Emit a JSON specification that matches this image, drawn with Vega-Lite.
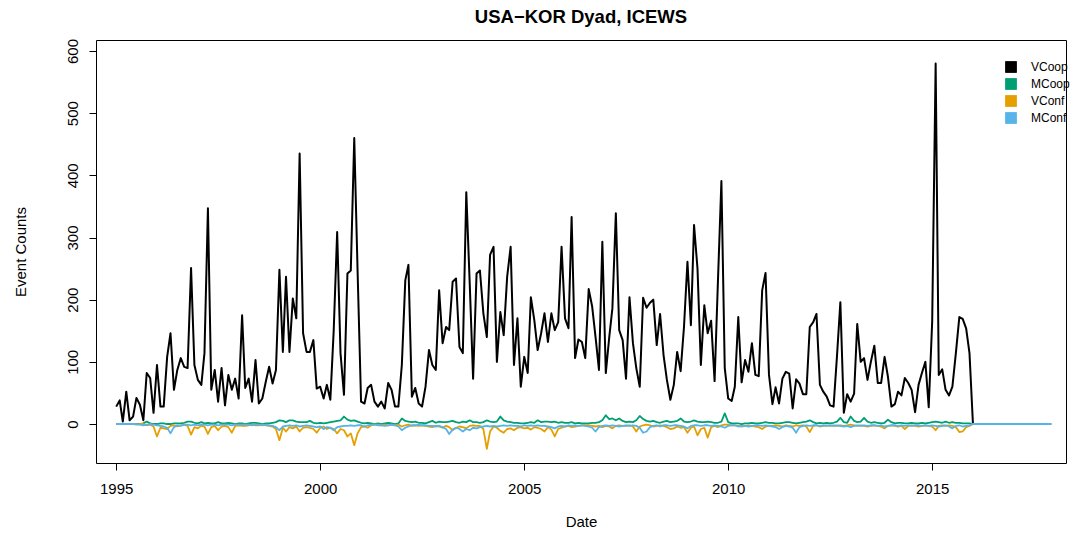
{
"$schema": "https://vega.github.io/schema/vega-lite/v6.json",
"width": 970, "height": 423,
"autosize": "none",
"padding": {"left": 96, "top": 40, "right": 15, "bottom": 71},
"background": "white",
"config": {"view": {"stroke": "black", "strokeWidth": 1}, "font": "Liberation Sans"},
"title": {"text": "USA−KOR Dyad, ICEWS", "fontSize": 18.5, "fontWeight": "bold", "font": "Liberation Sans", "anchor": "middle", "frame": "group", "offset": 16, "dy": 19, "baseline": "alphabetic", "color": "black"},
"data": {"format": {"parse": {"d": "date:'%Y-%m'"}}, "values": [
{"d":"1995-01","VCoop":28,"MCoop":0,"VConf":0,"MConf":0},
{"d":"1995-02","VCoop":38,"MCoop":0,"VConf":0,"MConf":0},
{"d":"1995-03","VCoop":4,"MCoop":0,"VConf":0,"MConf":0},
{"d":"1995-04","VCoop":52,"MCoop":0,"VConf":0,"MConf":0},
{"d":"1995-05","VCoop":6,"MCoop":0,"VConf":0,"MConf":0},
{"d":"1995-06","VCoop":12,"MCoop":0,"VConf":0,"MConf":0},
{"d":"1995-07","VCoop":42,"MCoop":0,"VConf":-1,"MConf":0},
{"d":"1995-08","VCoop":31,"MCoop":0,"VConf":0,"MConf":-1},
{"d":"1995-09","VCoop":6,"MCoop":1,"VConf":0,"MConf":-2},
{"d":"1995-10","VCoop":82,"MCoop":4,"VConf":-2,"MConf":-1},
{"d":"1995-11","VCoop":74,"MCoop":1,"VConf":-1,"MConf":0},
{"d":"1995-12","VCoop":18,"MCoop":0,"VConf":-4,"MConf":-1},
{"d":"1996-01","VCoop":95,"MCoop":0,"VConf":-20,"MConf":-2},
{"d":"1996-02","VCoop":28,"MCoop":1,"VConf":-6,"MConf":-3},
{"d":"1996-03","VCoop":28,"MCoop":1,"VConf":-7,"MConf":-4},
{"d":"1996-04","VCoop":108,"MCoop":0,"VConf":-8,"MConf":-6},
{"d":"1996-05","VCoop":146,"MCoop":0,"VConf":-3,"MConf":-15},
{"d":"1996-06","VCoop":55,"MCoop":1,"VConf":-2,"MConf":-5},
{"d":"1996-07","VCoop":87,"MCoop":1,"VConf":-4,"MConf":-2},
{"d":"1996-08","VCoop":106,"MCoop":1,"VConf":-2,"MConf":-3},
{"d":"1996-09","VCoop":92,"MCoop":2,"VConf":-1,"MConf":-1},
{"d":"1996-10","VCoop":90,"MCoop":4,"VConf":-3,"MConf":-1},
{"d":"1996-11","VCoop":251,"MCoop":4,"VConf":-17,"MConf":-2},
{"d":"1996-12","VCoop":95,"MCoop":2,"VConf":-5,"MConf":-1},
{"d":"1997-01","VCoop":71,"MCoop":1,"VConf":-7,"MConf":-2},
{"d":"1997-02","VCoop":63,"MCoop":3,"VConf":-3,"MConf":-1},
{"d":"1997-03","VCoop":114,"MCoop":1,"VConf":-4,"MConf":-1},
{"d":"1997-04","VCoop":347,"MCoop":2,"VConf":-16,"MConf":-2},
{"d":"1997-05","VCoop":55,"MCoop":1,"VConf":-5,"MConf":-1},
{"d":"1997-06","VCoop":87,"MCoop":1,"VConf":-3,"MConf":-1},
{"d":"1997-07","VCoop":36,"MCoop":3,"VConf":-10,"MConf":-2},
{"d":"1997-08","VCoop":90,"MCoop":1,"VConf":-4,"MConf":-1},
{"d":"1997-09","VCoop":30,"MCoop":1,"VConf":-3,"MConf":-1},
{"d":"1997-10","VCoop":79,"MCoop":2,"VConf":-5,"MConf":-1},
{"d":"1997-11","VCoop":55,"MCoop":1,"VConf":-14,"MConf":-2},
{"d":"1997-12","VCoop":73,"MCoop":0,"VConf":-3,"MConf":-1},
{"d":"1998-01","VCoop":41,"MCoop":1,"VConf":-2,"MConf":-1},
{"d":"1998-02","VCoop":175,"MCoop":1,"VConf":-3,"MConf":-1},
{"d":"1998-03","VCoop":58,"MCoop":0,"VConf":-3,"MConf":-1},
{"d":"1998-04","VCoop":73,"MCoop":1,"VConf":-2,"MConf":-1},
{"d":"1998-05","VCoop":36,"MCoop":2,"VConf":-1,"MConf":-2},
{"d":"1998-06","VCoop":103,"MCoop":2,"VConf":-2,"MConf":-1},
{"d":"1998-07","VCoop":33,"MCoop":1,"VConf":-2,"MConf":-1},
{"d":"1998-08","VCoop":41,"MCoop":0,"VConf":-1,"MConf":-2},
{"d":"1998-09","VCoop":68,"MCoop":1,"VConf":-2,"MConf":-1},
{"d":"1998-10","VCoop":92,"MCoop":1,"VConf":-3,"MConf":-2},
{"d":"1998-11","VCoop":65,"MCoop":2,"VConf":-4,"MConf":-3},
{"d":"1998-12","VCoop":87,"MCoop":3,"VConf":-8,"MConf":-5},
{"d":"1999-01","VCoop":248,"MCoop":6,"VConf":-26,"MConf":-10},
{"d":"1999-02","VCoop":116,"MCoop":5,"VConf":-6,"MConf":-4},
{"d":"1999-03","VCoop":237,"MCoop":3,"VConf":-12,"MConf":-3},
{"d":"1999-04","VCoop":116,"MCoop":6,"VConf":-5,"MConf":-2},
{"d":"1999-05","VCoop":202,"MCoop":6,"VConf":-7,"MConf":-3},
{"d":"1999-06","VCoop":170,"MCoop":4,"VConf":-4,"MConf":-2},
{"d":"1999-07","VCoop":435,"MCoop":3,"VConf":-12,"MConf":-4},
{"d":"1999-08","VCoop":146,"MCoop":3,"VConf":-6,"MConf":-3},
{"d":"1999-09","VCoop":116,"MCoop":3,"VConf":-5,"MConf":-2},
{"d":"1999-10","VCoop":116,"MCoop":5,"VConf":-6,"MConf":-3},
{"d":"1999-11","VCoop":135,"MCoop":2,"VConf":-8,"MConf":-4},
{"d":"1999-12","VCoop":57,"MCoop":1,"VConf":-14,"MConf":-5},
{"d":"2000-01","VCoop":60,"MCoop":2,"VConf":-6,"MConf":-4},
{"d":"2000-02","VCoop":41,"MCoop":1,"VConf":-4,"MConf":-8},
{"d":"2000-03","VCoop":63,"MCoop":2,"VConf":-8,"MConf":-5},
{"d":"2000-04","VCoop":39,"MCoop":3,"VConf":-6,"MConf":-6},
{"d":"2000-05","VCoop":150,"MCoop":4,"VConf":-8,"MConf":-10},
{"d":"2000-06","VCoop":309,"MCoop":5,"VConf":-15,"MConf":-5},
{"d":"2000-07","VCoop":114,"MCoop":6,"VConf":-8,"MConf":-4},
{"d":"2000-08","VCoop":47,"MCoop":12,"VConf":-10,"MConf":-3},
{"d":"2000-09","VCoop":242,"MCoop":7,"VConf":-20,"MConf":-3},
{"d":"2000-10","VCoop":247,"MCoop":5,"VConf":-15,"MConf":-2},
{"d":"2000-11","VCoop":460,"MCoop":6,"VConf":-34,"MConf":-3},
{"d":"2000-12","VCoop":245,"MCoop":4,"VConf":-15,"MConf":-2},
{"d":"2001-01","VCoop":36,"MCoop":2,"VConf":-5,"MConf":-2},
{"d":"2001-02","VCoop":33,"MCoop":1,"VConf":-4,"MConf":-4},
{"d":"2001-03","VCoop":58,"MCoop":2,"VConf":-6,"MConf":-2},
{"d":"2001-04","VCoop":63,"MCoop":1,"VConf":-2,"MConf":-1},
{"d":"2001-05","VCoop":36,"MCoop":0,"VConf":-1,"MConf":-1},
{"d":"2001-06","VCoop":28,"MCoop":1,"VConf":-1,"MConf":-2},
{"d":"2001-07","VCoop":36,"MCoop":0,"VConf":-2,"MConf":-2},
{"d":"2001-08","VCoop":25,"MCoop":1,"VConf":-1,"MConf":-3},
{"d":"2001-09","VCoop":66,"MCoop":2,"VConf":-2,"MConf":-2},
{"d":"2001-10","VCoop":55,"MCoop":1,"VConf":-1,"MConf":-1},
{"d":"2001-11","VCoop":28,"MCoop":0,"VConf":-2,"MConf":-2},
{"d":"2001-12","VCoop":28,"MCoop":1,"VConf":-1,"MConf":-4},
{"d":"2002-01","VCoop":95,"MCoop":9,"VConf":-4,"MConf":-10},
{"d":"2002-02","VCoop":231,"MCoop":5,"VConf":-2,"MConf":-6},
{"d":"2002-03","VCoop":256,"MCoop":4,"VConf":-1,"MConf":-4},
{"d":"2002-04","VCoop":44,"MCoop":3,"VConf":-3,"MConf":-2},
{"d":"2002-05","VCoop":58,"MCoop":4,"VConf":-2,"MConf":-2},
{"d":"2002-06","VCoop":33,"MCoop":2,"VConf":-3,"MConf":-1},
{"d":"2002-07","VCoop":28,"MCoop":2,"VConf":-2,"MConf":-2},
{"d":"2002-08","VCoop":60,"MCoop":1,"VConf":-3,"MConf":-2},
{"d":"2002-09","VCoop":119,"MCoop":3,"VConf":-4,"MConf":-3},
{"d":"2002-10","VCoop":95,"MCoop":5,"VConf":-5,"MConf":-3},
{"d":"2002-11","VCoop":87,"MCoop":2,"VConf":-3,"MConf":-4},
{"d":"2002-12","VCoop":215,"MCoop":4,"VConf":-4,"MConf":-3},
{"d":"2003-01","VCoop":130,"MCoop":3,"VConf":-6,"MConf":-5},
{"d":"2003-02","VCoop":156,"MCoop":3,"VConf":-3,"MConf":-8},
{"d":"2003-03","VCoop":151,"MCoop":4,"VConf":-5,"MConf":-16},
{"d":"2003-04","VCoop":229,"MCoop":5,"VConf":-10,"MConf":-9},
{"d":"2003-05","VCoop":234,"MCoop":3,"VConf":-6,"MConf":-6},
{"d":"2003-06","VCoop":124,"MCoop":2,"VConf":-4,"MConf":-8},
{"d":"2003-07","VCoop":114,"MCoop":4,"VConf":-5,"MConf":-12},
{"d":"2003-08","VCoop":373,"MCoop":3,"VConf":-7,"MConf":-8},
{"d":"2003-09","VCoop":225,"MCoop":6,"VConf":-3,"MConf":-10},
{"d":"2003-10","VCoop":73,"MCoop":3,"VConf":-2,"MConf":-6},
{"d":"2003-11","VCoop":242,"MCoop":3,"VConf":-3,"MConf":-7},
{"d":"2003-12","VCoop":247,"MCoop":2,"VConf":-3,"MConf":-5},
{"d":"2004-01","VCoop":178,"MCoop":3,"VConf":-8,"MConf":-4},
{"d":"2004-02","VCoop":140,"MCoop":6,"VConf":-40,"MConf":-3},
{"d":"2004-03","VCoop":272,"MCoop":4,"VConf":-12,"MConf":-4},
{"d":"2004-04","VCoop":285,"MCoop":3,"VConf":-4,"MConf":-3},
{"d":"2004-05","VCoop":100,"MCoop":4,"VConf":-6,"MConf":-4},
{"d":"2004-06","VCoop":180,"MCoop":12,"VConf":-11,"MConf":-3},
{"d":"2004-07","VCoop":143,"MCoop":6,"VConf":-14,"MConf":-2},
{"d":"2004-08","VCoop":237,"MCoop":4,"VConf":-8,"MConf":-3},
{"d":"2004-09","VCoop":285,"MCoop":3,"VConf":-7,"MConf":-2},
{"d":"2004-10","VCoop":95,"MCoop":2,"VConf":-10,"MConf":-3},
{"d":"2004-11","VCoop":170,"MCoop":2,"VConf":-6,"MConf":-3},
{"d":"2004-12","VCoop":60,"MCoop":1,"VConf":-5,"MConf":-4},
{"d":"2005-01","VCoop":108,"MCoop":1,"VConf":-7,"MConf":-2},
{"d":"2005-02","VCoop":82,"MCoop":2,"VConf":-6,"MConf":-3},
{"d":"2005-03","VCoop":204,"MCoop":3,"VConf":-9,"MConf":-2},
{"d":"2005-04","VCoop":167,"MCoop":2,"VConf":-5,"MConf":-3},
{"d":"2005-05","VCoop":119,"MCoop":6,"VConf":-6,"MConf":-2},
{"d":"2005-06","VCoop":146,"MCoop":3,"VConf":-8,"MConf":-3},
{"d":"2005-07","VCoop":178,"MCoop":4,"VConf":-12,"MConf":-3},
{"d":"2005-08","VCoop":132,"MCoop":4,"VConf":-5,"MConf":-4},
{"d":"2005-09","VCoop":178,"MCoop":3,"VConf":-9,"MConf":-5},
{"d":"2005-10","VCoop":151,"MCoop":4,"VConf":-20,"MConf":-7},
{"d":"2005-11","VCoop":164,"MCoop":2,"VConf":-8,"MConf":-4},
{"d":"2005-12","VCoop":285,"MCoop":3,"VConf":-6,"MConf":-3},
{"d":"2006-01","VCoop":170,"MCoop":2,"VConf":-4,"MConf":-4},
{"d":"2006-02","VCoop":154,"MCoop":2,"VConf":-3,"MConf":-2},
{"d":"2006-03","VCoop":333,"MCoop":3,"VConf":-5,"MConf":-3},
{"d":"2006-04","VCoop":106,"MCoop":1,"VConf":-4,"MConf":-2},
{"d":"2006-05","VCoop":136,"MCoop":2,"VConf":-3,"MConf":-3},
{"d":"2006-06","VCoop":132,"MCoop":1,"VConf":-2,"MConf":-2},
{"d":"2006-07","VCoop":106,"MCoop":1,"VConf":-2,"MConf":-3},
{"d":"2006-08","VCoop":217,"MCoop":1,"VConf":-2,"MConf":-4},
{"d":"2006-09","VCoop":189,"MCoop":2,"VConf":-3,"MConf":-6},
{"d":"2006-10","VCoop":140,"MCoop":2,"VConf":-4,"MConf":-12},
{"d":"2006-11","VCoop":87,"MCoop":3,"VConf":-3,"MConf":-5},
{"d":"2006-12","VCoop":293,"MCoop":6,"VConf":-5,"MConf":-3},
{"d":"2007-01","VCoop":82,"MCoop":14,"VConf":-3,"MConf":-2},
{"d":"2007-02","VCoop":140,"MCoop":8,"VConf":-4,"MConf":-3},
{"d":"2007-03","VCoop":186,"MCoop":9,"VConf":-7,"MConf":-2},
{"d":"2007-04","VCoop":339,"MCoop":6,"VConf":-3,"MConf":-3},
{"d":"2007-05","VCoop":151,"MCoop":9,"VConf":-2,"MConf":-4},
{"d":"2007-06","VCoop":135,"MCoop":5,"VConf":-3,"MConf":-3},
{"d":"2007-07","VCoop":73,"MCoop":3,"VConf":-3,"MConf":-2},
{"d":"2007-08","VCoop":204,"MCoop":4,"VConf":-2,"MConf":-3},
{"d":"2007-09","VCoop":130,"MCoop":3,"VConf":-4,"MConf":-2},
{"d":"2007-10","VCoop":90,"MCoop":6,"VConf":-12,"MConf":-3},
{"d":"2007-11","VCoop":60,"MCoop":13,"VConf":-4,"MConf":-6},
{"d":"2007-12","VCoop":203,"MCoop":8,"VConf":-2,"MConf":-14},
{"d":"2008-01","VCoop":187,"MCoop":5,"VConf":-1,"MConf":-12},
{"d":"2008-02","VCoop":195,"MCoop":4,"VConf":-2,"MConf":-5},
{"d":"2008-03","VCoop":200,"MCoop":5,"VConf":-4,"MConf":-3},
{"d":"2008-04","VCoop":127,"MCoop":3,"VConf":-3,"MConf":-2},
{"d":"2008-05","VCoop":177,"MCoop":2,"VConf":-2,"MConf":-4},
{"d":"2008-06","VCoop":111,"MCoop":4,"VConf":-3,"MConf":-2},
{"d":"2008-07","VCoop":71,"MCoop":5,"VConf":-5,"MConf":-2},
{"d":"2008-08","VCoop":39,"MCoop":3,"VConf":-8,"MConf":-3},
{"d":"2008-09","VCoop":63,"MCoop":4,"VConf":-7,"MConf":-2},
{"d":"2008-10","VCoop":116,"MCoop":5,"VConf":-4,"MConf":-2},
{"d":"2008-11","VCoop":85,"MCoop":9,"VConf":-6,"MConf":-3},
{"d":"2008-12","VCoop":156,"MCoop":4,"VConf":-5,"MConf":-4},
{"d":"2009-01","VCoop":261,"MCoop":3,"VConf":-14,"MConf":-7},
{"d":"2009-02","VCoop":159,"MCoop":4,"VConf":-6,"MConf":-3},
{"d":"2009-03","VCoop":320,"MCoop":6,"VConf":-4,"MConf":-2},
{"d":"2009-04","VCoop":250,"MCoop":4,"VConf":-18,"MConf":-2},
{"d":"2009-05","VCoop":95,"MCoop":3,"VConf":-8,"MConf":-3},
{"d":"2009-06","VCoop":191,"MCoop":3,"VConf":-6,"MConf":-2},
{"d":"2009-07","VCoop":146,"MCoop":4,"VConf":-22,"MConf":-2},
{"d":"2009-08","VCoop":166,"MCoop":3,"VConf":-5,"MConf":-3},
{"d":"2009-09","VCoop":69,"MCoop":2,"VConf":-3,"MConf":-2},
{"d":"2009-10","VCoop":230,"MCoop":2,"VConf":-5,"MConf":-3},
{"d":"2009-11","VCoop":391,"MCoop":4,"VConf":-2,"MConf":-4},
{"d":"2009-12","VCoop":90,"MCoop":17,"VConf":-1,"MConf":-6},
{"d":"2010-01","VCoop":41,"MCoop":3,"VConf":-1,"MConf":-3},
{"d":"2010-02","VCoop":37,"MCoop":1,"VConf":-2,"MConf":-2},
{"d":"2010-03","VCoop":60,"MCoop":1,"VConf":-2,"MConf":-2},
{"d":"2010-04","VCoop":172,"MCoop":1,"VConf":-3,"MConf":-4},
{"d":"2010-05","VCoop":67,"MCoop":0,"VConf":-4,"MConf":-3},
{"d":"2010-06","VCoop":103,"MCoop":1,"VConf":-3,"MConf":-3},
{"d":"2010-07","VCoop":84,"MCoop":1,"VConf":-2,"MConf":-4},
{"d":"2010-08","VCoop":130,"MCoop":2,"VConf":-3,"MConf":-3},
{"d":"2010-09","VCoop":79,"MCoop":1,"VConf":-4,"MConf":-2},
{"d":"2010-10","VCoop":77,"MCoop":1,"VConf":-5,"MConf":-2},
{"d":"2010-11","VCoop":215,"MCoop":2,"VConf":-8,"MConf":-3},
{"d":"2010-12","VCoop":243,"MCoop":3,"VConf":-4,"MConf":-2},
{"d":"2011-01","VCoop":79,"MCoop":2,"VConf":-3,"MConf":-3},
{"d":"2011-02","VCoop":32,"MCoop":2,"VConf":-3,"MConf":-4},
{"d":"2011-03","VCoop":59,"MCoop":1,"VConf":-2,"MConf":-5},
{"d":"2011-04","VCoop":33,"MCoop":1,"VConf":-3,"MConf":-8},
{"d":"2011-05","VCoop":73,"MCoop":2,"VConf":-4,"MConf":-5},
{"d":"2011-06","VCoop":84,"MCoop":3,"VConf":-2,"MConf":-3},
{"d":"2011-07","VCoop":81,"MCoop":3,"VConf":-3,"MConf":-4},
{"d":"2011-08","VCoop":25,"MCoop":2,"VConf":-4,"MConf":-6},
{"d":"2011-09","VCoop":72,"MCoop":1,"VConf":-2,"MConf":-14},
{"d":"2011-10","VCoop":65,"MCoop":2,"VConf":-3,"MConf":-5},
{"d":"2011-11","VCoop":48,"MCoop":3,"VConf":-2,"MConf":-3},
{"d":"2011-12","VCoop":48,"MCoop":4,"VConf":-4,"MConf":-2},
{"d":"2012-01","VCoop":156,"MCoop":6,"VConf":-13,"MConf":-3},
{"d":"2012-02","VCoop":164,"MCoop":3,"VConf":-3,"MConf":-2},
{"d":"2012-03","VCoop":177,"MCoop":1,"VConf":-2,"MConf":-2},
{"d":"2012-04","VCoop":63,"MCoop":2,"VConf":-4,"MConf":-3},
{"d":"2012-05","VCoop":52,"MCoop":1,"VConf":-3,"MConf":-2},
{"d":"2012-06","VCoop":44,"MCoop":2,"VConf":-2,"MConf":-3},
{"d":"2012-07","VCoop":30,"MCoop":1,"VConf":-3,"MConf":-2},
{"d":"2012-08","VCoop":28,"MCoop":2,"VConf":-2,"MConf":-3},
{"d":"2012-09","VCoop":110,"MCoop":4,"VConf":-3,"MConf":-2},
{"d":"2012-10","VCoop":196,"MCoop":10,"VConf":-2,"MConf":-3},
{"d":"2012-11","VCoop":18,"MCoop":3,"VConf":-3,"MConf":-4},
{"d":"2012-12","VCoop":48,"MCoop":2,"VConf":-2,"MConf":-3},
{"d":"2013-01","VCoop":36,"MCoop":12,"VConf":-1,"MConf":-5},
{"d":"2013-02","VCoop":49,"MCoop":5,"VConf":-2,"MConf":-3},
{"d":"2013-03","VCoop":161,"MCoop":3,"VConf":-3,"MConf":-2},
{"d":"2013-04","VCoop":100,"MCoop":4,"VConf":-2,"MConf":-3},
{"d":"2013-05","VCoop":106,"MCoop":10,"VConf":-3,"MConf":-2},
{"d":"2013-06","VCoop":71,"MCoop":4,"VConf":-4,"MConf":-3},
{"d":"2013-07","VCoop":100,"MCoop":2,"VConf":-3,"MConf":-2},
{"d":"2013-08","VCoop":126,"MCoop":3,"VConf":-2,"MConf":-2},
{"d":"2013-09","VCoop":66,"MCoop":2,"VConf":-3,"MConf":-3},
{"d":"2013-10","VCoop":66,"MCoop":1,"VConf":-4,"MConf":-2},
{"d":"2013-11","VCoop":108,"MCoop":2,"VConf":-7,"MConf":-4},
{"d":"2013-12","VCoop":76,"MCoop":7,"VConf":-3,"MConf":-3},
{"d":"2014-01","VCoop":28,"MCoop":3,"VConf":-2,"MConf":-2},
{"d":"2014-02","VCoop":32,"MCoop":1,"VConf":-3,"MConf":-2},
{"d":"2014-03","VCoop":52,"MCoop":2,"VConf":-4,"MConf":-3},
{"d":"2014-04","VCoop":46,"MCoop":2,"VConf":-3,"MConf":-2},
{"d":"2014-05","VCoop":74,"MCoop":1,"VConf":-8,"MConf":-3},
{"d":"2014-06","VCoop":66,"MCoop":1,"VConf":-3,"MConf":-2},
{"d":"2014-07","VCoop":55,"MCoop":2,"VConf":-2,"MConf":-3},
{"d":"2014-08","VCoop":19,"MCoop":1,"VConf":-3,"MConf":-2},
{"d":"2014-09","VCoop":63,"MCoop":1,"VConf":-4,"MConf":-2},
{"d":"2014-10","VCoop":82,"MCoop":2,"VConf":-3,"MConf":-3},
{"d":"2014-11","VCoop":100,"MCoop":1,"VConf":-2,"MConf":-2},
{"d":"2014-12","VCoop":27,"MCoop":2,"VConf":-3,"MConf":-3},
{"d":"2015-01","VCoop":165,"MCoop":3,"VConf":-4,"MConf":-2},
{"d":"2015-02","VCoop":580,"MCoop":4,"VConf":-10,"MConf":-3},
{"d":"2015-03","VCoop":79,"MCoop":3,"VConf":-3,"MConf":-4},
{"d":"2015-04","VCoop":88,"MCoop":2,"VConf":-2,"MConf":-3},
{"d":"2015-05","VCoop":55,"MCoop":4,"VConf":-3,"MConf":-2},
{"d":"2015-06","VCoop":46,"MCoop":2,"VConf":-2,"MConf":-4},
{"d":"2015-07","VCoop":60,"MCoop":3,"VConf":-3,"MConf":-7},
{"d":"2015-08","VCoop":114,"MCoop":2,"VConf":-5,"MConf":-3},
{"d":"2015-09","VCoop":172,"MCoop":2,"VConf":-13,"MConf":-2},
{"d":"2015-10","VCoop":169,"MCoop":1,"VConf":-12,"MConf":-4},
{"d":"2015-11","VCoop":154,"MCoop":1,"VConf":-5,"MConf":-3},
{"d":"2015-12","VCoop":114,"MCoop":1,"VConf":-3,"MConf":-2},
{"d":"2016-01","VCoop":0,"MCoop":0,"VConf":0,"MConf":0},
{"d":"2016-02","VCoop":0,"MCoop":0,"VConf":0,"MConf":0},
{"d":"2016-03","VCoop":0,"MCoop":0,"VConf":0,"MConf":0},
{"d":"2016-04","VCoop":0,"MCoop":0,"VConf":0,"MConf":0},
{"d":"2016-05","VCoop":0,"MCoop":0,"VConf":0,"MConf":0},
{"d":"2016-06","VCoop":0,"MCoop":0,"VConf":0,"MConf":0},
{"d":"2016-07","VCoop":0,"MCoop":0,"VConf":0,"MConf":0},
{"d":"2016-08","VCoop":0,"MCoop":0,"VConf":0,"MConf":0},
{"d":"2016-09","VCoop":0,"MCoop":0,"VConf":0,"MConf":0},
{"d":"2016-10","VCoop":0,"MCoop":0,"VConf":0,"MConf":0},
{"d":"2016-11","VCoop":0,"MCoop":0,"VConf":0,"MConf":0},
{"d":"2016-12","VCoop":0,"MCoop":0,"VConf":0,"MConf":0},
{"d":"2017-01","VCoop":0,"MCoop":0,"VConf":0,"MConf":0},
{"d":"2017-02","VCoop":0,"MCoop":0,"VConf":0,"MConf":0},
{"d":"2017-03","VCoop":0,"MCoop":0,"VConf":0,"MConf":0},
{"d":"2017-04","VCoop":0,"MCoop":0,"VConf":0,"MConf":0},
{"d":"2017-05","VCoop":0,"MCoop":0,"VConf":0,"MConf":0},
{"d":"2017-06","VCoop":0,"MCoop":0,"VConf":0,"MConf":0},
{"d":"2017-07","VCoop":0,"MCoop":0,"VConf":0,"MConf":0},
{"d":"2017-08","VCoop":0,"MCoop":0,"VConf":0,"MConf":0},
{"d":"2017-09","VCoop":0,"MCoop":0,"VConf":0,"MConf":0},
{"d":"2017-10","VCoop":0,"MCoop":0,"VConf":0,"MConf":0},
{"d":"2017-11","VCoop":0,"MCoop":0,"VConf":0,"MConf":0},
{"d":"2017-12","VCoop":0,"MCoop":0,"VConf":0,"MConf":0}
]},
"transform": [{"fold": ["VCoop", "MCoop", "VConf", "MConf"], "as": ["series", "count"]}],
"encoding": {
  "x": {"field": "d", "type": "temporal",
        "scale": {"domain": [{"year": 1994, "month": 7, "date": 4}, {"year": 2018, "month": 4, "date": 13}], "nice": false},
        "axis": {"values": [{"year": 1995}, {"year": 2000}, {"year": 2005}, {"year": 2010}, {"year": 2015}], "format": "%Y",
                 "title": "Date", "grid": false, "domain": false, "tickSize": 7, "tickColor": "black", "tickWidth": 1,
                 "labelFontSize": 15, "labelColor": "black", "labelPadding": 11, "labelFont": "Liberation Sans",
                 "labelFlush": false, "labelOverlap": false,
                 "titleFontSize": 15, "titleFontWeight": "normal", "titleColor": "black", "titleFont": "Liberation Sans",
                 "titleBaseline": "alphabetic", "titleY": 63}},
  "y": {"field": "count", "type": "quantitative",
        "scale": {"domain": [-62.7, 617.7], "nice": false, "zero": false},
        "axis": {"values": [0, 100, 200, 300, 400, 500, 600], "title": "Event Counts", "grid": false, "domain": false,
                 "tickSize": 7, "tickColor": "black", "tickWidth": 1,
                 "labelAngle": 270, "labelAlign": "center", "labelBaseline": "alphabetic", "labelPadding": 12,
                 "labelFontSize": 15, "labelColor": "black", "labelFont": "Liberation Sans", "labelFlush": false, "labelOverlap": false,
                 "titleFontSize": 15, "titleFontWeight": "normal", "titleColor": "black", "titleFont": "Liberation Sans",
                 "titleX": -71, "titleBaseline": "alphabetic"}},
  "color": {"field": "series", "type": "nominal",
            "scale": {"domain": ["VCoop", "MCoop", "VConf", "MConf"], "range": ["#000000", "#009E73", "#E69F00", "#56B4E9"]},
            "legend": {"title": null, "orient": "none", "legendX": 909, "legendY": 21, "symbolType": "square", "symbolSize": 121,
                       "labelFontSize": 12, "labelFont": "Liberation Sans", "labelColor": "black", "labelOffset": 14,
                       "rowPadding": 1, "padding": 0, "symbolStrokeWidth": 0.8,
                       "encode": {"symbols": {"update": {"fill": {"scale": "color", "field": "value"}, "stroke": {"value": "black"}, "strokeWidth": {"value": 0.8}, "opacity": {"value": 1}}}}}}
},
"layer": [
  {"transform": [{"filter": "datum.series === 'VCoop'"}], "mark": {"type": "line", "strokeWidth": 2, "strokeJoin": "round"}},
  {"transform": [{"filter": "datum.series === 'MCoop'"}], "mark": {"type": "line", "strokeWidth": 1.8, "strokeJoin": "round"}},
  {"transform": [{"filter": "datum.series === 'VConf'"}], "mark": {"type": "line", "strokeWidth": 1.8, "strokeJoin": "round"}},
  {"transform": [{"filter": "datum.series === 'MConf'"}], "mark": {"type": "line", "strokeWidth": 1.8, "strokeJoin": "round"}}
]
}
